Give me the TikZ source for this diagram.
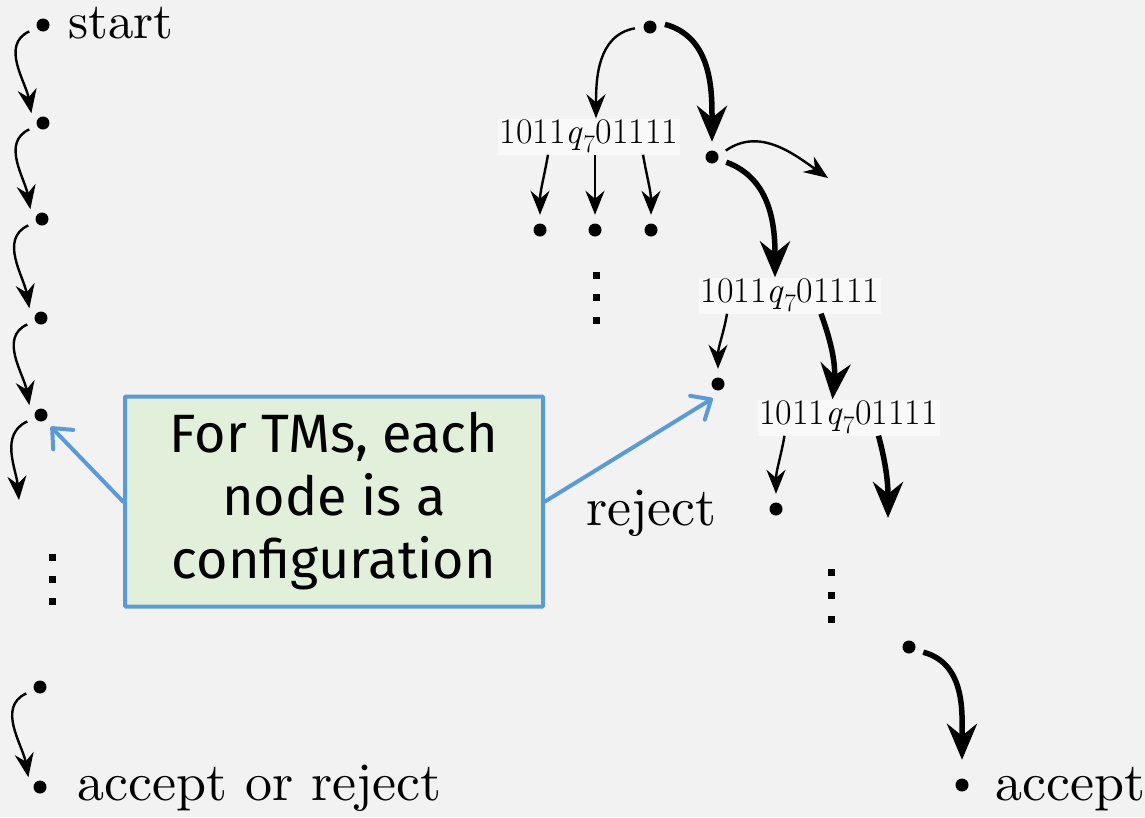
\documentclass[tikz,border=0pt]{standalone}
\usepackage{fontspec}
\newfontfamily\firasans{Fira Sans}
\newfontfamily\lmwide{lmroman10-regular.otf}
\usetikzlibrary{arrows.meta}
\definecolor{bgc}{HTML}{F2F2F2}
\definecolor{labc}{HTML}{F9F9F9}
\definecolor{notefill}{HTML}{E2EFDA}
\definecolor{noteline}{HTML}{5B9BD5}
\newcommand{\cfgtext}{1011\textit{q}\textsubscript{7}01111}
\begin{document}
\begin{tikzpicture}[x=1pt,y=1pt,
  cfg/.style={circle,inner sep=0pt,minimum size=30pt,
    path picture={\fill[black] (path picture bounding box.center) circle (6.5pt);}},
  thinarr/.style={line width=2.4pt,-{Stealth[length=24pt,width=19pt,inset=8pt]}},
  thickarr/.style={line width=5.5pt,-{Stealth[length=36pt,width=30pt,inset=12pt]}},
  callarr/.style={draw=noteline,line width=4pt,line cap=round,-{Straight Barb[length=16pt,width=28pt,round]}},
  serif/.style={inner sep=0pt,font=\lmwide\fontsize{54}{64}\selectfont},
  conf/.style={fill=labc,inner sep=0pt,minimum width=182pt,minimum height=36pt,font=\fontsize{36}{40}\selectfont},
  notebox/.style={draw=noteline,fill=notefill,line width=4pt,rounded corners=1pt,
    minimum width=418pt,minimum height=210pt,align=center,
    font=\firasans\fontsize{54}{63}\selectfont}
]
\fill[bgc] (0,0) rectangle (1145,-817);
\useasboundingbox (0,0) rectangle (1145,-817);

% ---------- left chain ----------
\foreach \n/\x/\y in {l1/43/25,l2/43/123,l3/42/219,l4/41/318,l5/41/415,l6/40/687,l7/40/787}
  \node[cfg] (\n) at (\x,-\y) {};
\node[serif,anchor=base west,font=\lmwide\fontsize{51}{60}\selectfont] (tstart) at (68,-38) {start};
\node[serif,anchor=base west] (tacr) at (77,-800) {accept or reject};
\foreach \a/\b in {l1/l2,l2/l3,l3/l4,l4/l5,l6/l7}
  \draw[thinarr] (\a.205) to[out=205,in=100] (\b.140);
\coordinate (l5e) at (19,-500);
\draw[thinarr] (l5.205) to[out=205,in=95] (l5e);
\foreach \y in {557,579,601}
  \fill (48.5,-\y+3.5) rectangle ++(7,-7);

% ---------- right tree ----------
\node[cfg] (T) at (650,-27) {};
\node[conf] (L1) at (589,-136.5) {\cfgtext};
\node[cfg] (D2) at (712,-157) {};
\node[cfg] (a1) at (540,-230) {};
\node[cfg] (a2) at (595,-230) {};
\node[cfg] (a3) at (651,-230) {};
\node[conf] (L2) at (790,-295.5) {\cfgtext};
\node[cfg] (D3) at (718,-384) {};
\node[conf] (L3) at (848.5,-417.5) {\cfgtext};
\node[cfg] (D4) at (776,-509) {};
\node[cfg] (D5) at (909,-647) {};
\node[cfg] (D6) at (962,-785) {};
\node[serif,anchor=base west] (trej) at (586,-525) {reject};
\node[serif,anchor=base west] (tacc) at (995,-800) {accept};

\draw[thinarr] (T.185) to[out=190,in=90] ([xshift=7pt]L1.north);
\draw[thickarr] (T.10) to[out=-15,in=90] (D2.north);
\draw[thinarr] ([xshift=-41pt]L1.south) to[out=-100,in=90] (a1.north);
\draw[thinarr] ([xshift=6pt]L1.south) -- (a2.north);
\draw[thinarr] ([xshift=54pt]L1.south) to[out=-80,in=90] (a3.north);
\foreach \y in {275,297,320}
  \fill (592.5,-\y+3.5) rectangle ++(7,-7);

\coordinate (d2e) at (828,-178);
\draw[thinarr] (D2.25) to[out=35,in=145] (d2e);
\draw[thickarr] (D2.-20) to[out=-20,in=90] ([xshift=-15pt]L2.north);
\draw[thinarr] ([xshift=-63pt]L2.south) to[out=-100,in=90] (D3.north);
\draw[thickarr] ([xshift=31pt]L2.south) to[out=-70,in=85] ([xshift=-16pt]L3.north);
\draw[thinarr] ([xshift=-64pt]L3.south) to[out=-100,in=90] (D4.north);
\coordinate (l3e) at (888,-518);
\draw[thickarr] ([xshift=30pt]L3.south) to[out=-75,in=90] (l3e);
\foreach \y in {572,595,619}
  \fill (827.5,-\y+3.5) rectangle ++(7,-7);
\draw[thickarr] (D5.-20) to[out=-15,in=90] ([yshift=10pt]D6.north);

% ---------- callout ----------
\node[notebox] (note) at (334,-501.5) {For TMs, each\\node is a\\configuration};
\draw[callarr] (note.west) -- (l5.-50);
\draw[callarr] (note.east) -- (D3.-110);
\end{tikzpicture}
\end{document}
